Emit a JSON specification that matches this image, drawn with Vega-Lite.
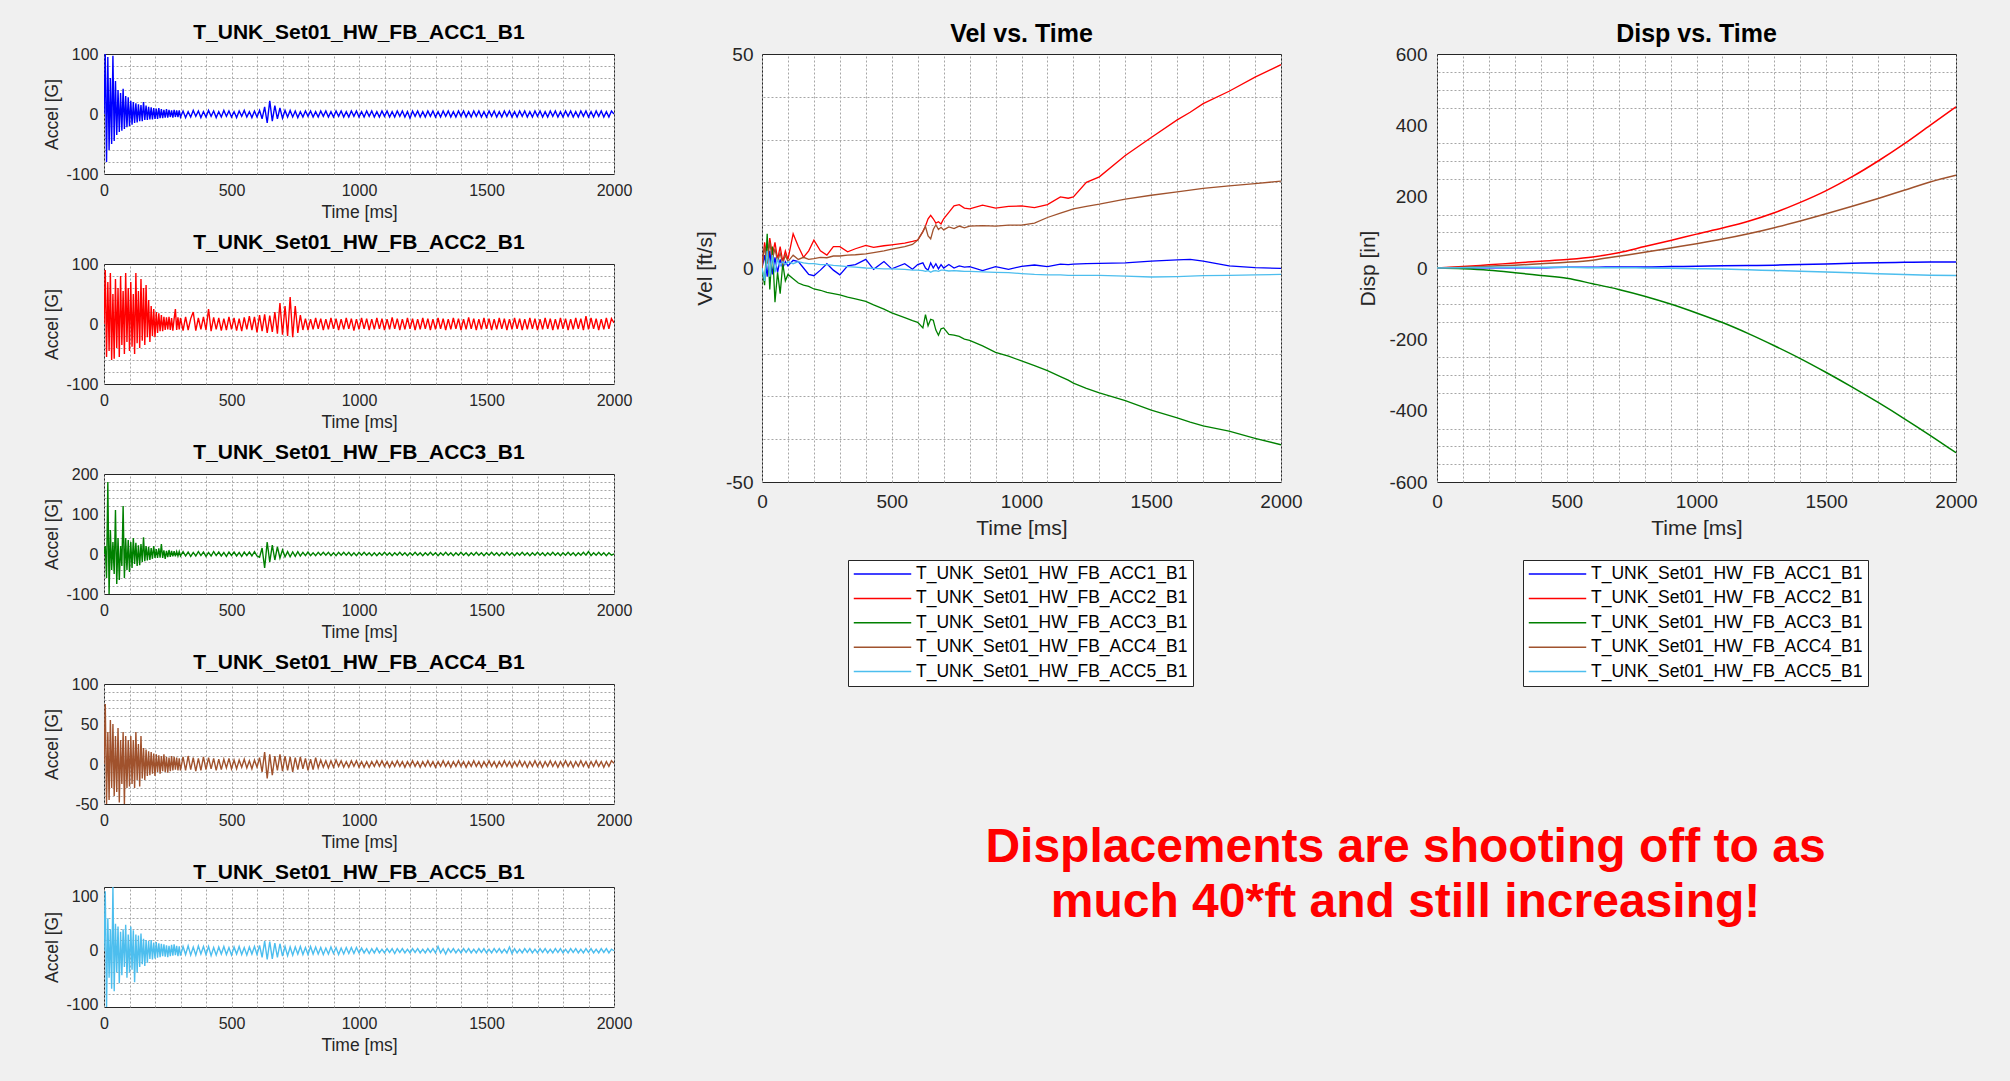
{
"$schema": "https://vega.github.io/schema/vega-lite/v6.json",
"background": "#f0f0f0",
"padding": {"left": 42, "top": 15, "right": 0, "bottom": 30},
"config": {
  "font": "Liberation Sans",
  "view": {"fill": "white", "stroke": "#262626", "strokeWidth": 1},
  "title": {"fontSize": 21, "fontWeight": "bold", "color": "#000000", "offset": 3, "font": "Liberation Sans"},
  "axis": {"labelFont": "Liberation Sans", "titleFont": "Liberation Sans", "labelFontSize": 16, "titleFontSize": 17.5, "labelColor": "#262626", "titleColor": "#262626", "titleFontWeight": "normal", "domain": false, "ticks": false, "grid": true, "gridColor": "#8a8a8a", "gridOpacity": 1, "gridWidth": 1, "labelPadding": 8, "titlePadding": 5, "labelFlush": false, "labelOverlap": false, "labelExpr": "'' + datum.value"},
  "legend": {"orient": "none", "legendX": 86, "legendY": 506, "direction": "vertical", "fillColor": "white", "strokeColor": "#262626", "padding": 5, "symbolType": "stroke", "symbolSize": 3300, "symbolStrokeWidth": 1.5, "clipHeight": 18, "labelFontSize": 17.5, "labelFont": "Liberation Sans", "labelColor": "#000000", "rowPadding": 6.4, "labelOffset": 4, "labelLimit": 400, "title": null}
},
"datasets": {
"acc": [
{"t":0,"a":0,"b":0,"c":0,"d":0,"e":0},
{"t":5,"a":100,"b":90,"c":20,"d":75,"e":110},
{"t":10,"a":-80,"b":-55,"c":-60,"d":-50,"e":-104},
{"t":15,"a":95,"b":70,"c":180,"d":40,"e":60},
{"t":20,"a":-60,"b":-45,"c":-100,"d":-45,"e":-50},
{"t":25,"a":60,"b":85,"c":60,"d":55,"e":40},
{"t":30,"a":-50,"b":-60,"c":-40,"d":-30,"e":-70},
{"t":35,"a":97,"b":50,"c":30,"d":50,"e":120},
{"t":40,"a":-45,"b":-58,"c":-50,"d":-40,"e":-75},
{"t":45,"a":55,"b":75,"c":110,"d":35,"e":50},
{"t":50,"a":-35,"b":-40,"c":-75,"d":-35,"e":-40},
{"t":55,"a":40,"b":60,"c":40,"d":45,"e":45},
{"t":60,"a":-30,"b":-55,"c":-65,"d":-48,"e":-60},
{"t":65,"a":35,"b":80,"c":20,"d":30,"e":35},
{"t":70,"a":-28,"b":-35,"c":-30,"d":-25,"e":-45},
{"t":75,"a":42,"b":55,"c":120,"d":40,"e":40},
{"t":80,"a":-25,"b":-50,"c":-60,"d":-50,"e":-30},
{"t":85,"a":30,"b":85,"c":40,"d":35,"e":48},
{"t":90,"a":-22,"b":-30,"c":-40,"d":-30,"e":-50},
{"t":95,"a":28,"b":60,"c":35,"d":30,"e":30},
{"t":100,"a":-20,"b":-45,"c":-45,"d":-28,"e":-40},
{"t":105,"a":22,"b":70,"c":30,"d":35,"e":45},
{"t":110,"a":-18,"b":-38,"c":-35,"d":-25,"e":-35},
{"t":115,"a":20,"b":50,"c":40,"d":30,"e":38},
{"t":120,"a":-15,"b":-50,"c":-25,"d":-30,"e":-58},
{"t":125,"a":18,"b":85,"c":28,"d":40,"e":30},
{"t":130,"a":-14,"b":-32,"c":-30,"d":-20,"e":-40},
{"t":135,"a":16,"b":55,"c":22,"d":25,"e":28},
{"t":140,"a":-12,"b":-40,"c":-28,"d":-28,"e":-30},
{"t":145,"a":15,"b":75,"c":25,"d":35,"e":32},
{"t":150,"a":-12,"b":-28,"c":-20,"d":-18,"e":-25},
{"t":155,"a":20,"b":60,"c":42,"d":20,"e":22},
{"t":160,"a":-10,"b":-35,"c":-18,"d":-20,"e":-28},
{"t":165,"a":14,"b":65,"c":20,"d":18,"e":20},
{"t":170,"a":-10,"b":-22,"c":-16,"d":-15,"e":-22},
{"t":175,"a":12,"b":40,"c":18,"d":16,"e":18},
{"t":180,"a":-9,"b":-30,"c":-15,"d":-14,"e":-15},
{"t":185,"a":11,"b":30,"c":15,"d":15,"e":20},
{"t":190,"a":-9,"b":-20,"c":-12,"d":-12,"e":-16},
{"t":195,"a":10,"b":25,"c":20,"d":13,"e":15},
{"t":200,"a":-8,"b":-22,"c":-10,"d":-15,"e":-14},
{"t":205,"a":9,"b":20,"c":12,"d":12,"e":16},
{"t":210,"a":-8,"b":-15,"c":-10,"d":-10,"e":-13},
{"t":215,"a":10,"b":18,"c":14,"d":11,"e":14},
{"t":220,"a":-7,"b":-12,"c":-9,"d":-12,"e":-12},
{"t":225,"a":8,"b":15,"c":25,"d":10,"e":13},
{"t":230,"a":-7,"b":-12,"c":-10,"d":-9,"e":-10},
{"t":235,"a":7,"b":12,"c":9,"d":12,"e":12},
{"t":240,"a":-6,"b":-10,"c":-12,"d":-10,"e":-11},
{"t":245,"a":8,"b":11,"c":8,"d":9,"e":10},
{"t":250,"a":-6,"b":-9,"c":-8,"d":-11,"e":-12},
{"t":255,"a":7,"b":12,"c":10,"d":8,"e":9},
{"t":260,"a":-5,"b":-10,"c":-7,"d":-9,"e":-10},
{"t":265,"a":6,"b":10,"c":8,"d":10,"e":11},
{"t":270,"a":-6,"b":-11,"c":-6,"d":-8,"e":-9},
{"t":275,"a":7,"b":9,"c":7,"d":9,"e":12},
{"t":280,"a":-5,"b":25,"c":-6,"d":-7,"e":-8},
{"t":285,"a":6,"b":-10,"c":6,"d":8,"e":9},
{"t":290,"a":-5,"b":11,"c":-5,"d":-8,"e":-10},
{"t":295,"a":6,"b":-9,"c":6,"d":7,"e":8},
{"t":300,"a":-5,"b":10,"c":-5,"d":-8,"e":-9},
{"t":310,"a":5,"b":-11,"c":6,"d":9,"e":8},
{"t":320,"a":-6,"b":12,"c":-5,"d":-8,"e":-7},
{"t":330,"a":4,"b":-10,"c":5,"d":10,"e":9},
{"t":340,"a":-5,"b":9,"c":-6,"d":-7,"e":-8},
{"t":350,"a":6,"b":20,"c":4,"d":8,"e":7},
{"t":360,"a":-4,"b":-11,"c":-5,"d":-9,"e":-8},
{"t":370,"a":5,"b":10,"c":6,"d":7,"e":9},
{"t":380,"a":-6,"b":-9,"c":-4,"d":-8,"e":-6},
{"t":390,"a":4,"b":12,"c":5,"d":9,"e":8},
{"t":400,"a":-5,"b":-10,"c":-6,"d":-7,"e":-7},
{"t":410,"a":6,"b":25,"c":4,"d":8,"e":8},
{"t":420,"a":-4,"b":-12,"c":-5,"d":-6,"e":-9},
{"t":430,"a":5,"b":11,"c":6,"d":7,"e":6},
{"t":440,"a":-6,"b":-9,"c":-4,"d":-8,"e":-8},
{"t":450,"a":4,"b":10,"c":5,"d":6,"e":7},
{"t":460,"a":-5,"b":-11,"c":-5,"d":-7,"e":-6},
{"t":470,"a":6,"b":9,"c":4,"d":6,"e":8},
{"t":480,"a":-4,"b":-10,"c":-6,"d":-5,"e":-7},
{"t":490,"a":5,"b":12,"c":5,"d":7,"e":6},
{"t":500,"a":-5,"b":-9,"c":-4,"d":-6,"e":-8},
{"t":510,"a":4,"b":10,"c":5,"d":5,"e":7},
{"t":520,"a":-6,"b":-11,"c":-5,"d":-6,"e":-6},
{"t":530,"a":5,"b":9,"c":4,"d":5,"e":8},
{"t":540,"a":-4,"b":-12,"c":-6,"d":-4,"e":-7},
{"t":550,"a":6,"b":11,"c":5,"d":6,"e":6},
{"t":560,"a":-5,"b":-9,"c":-4,"d":-5,"e":-8},
{"t":570,"a":4,"b":13,"c":5,"d":4,"e":7},
{"t":580,"a":-6,"b":-10,"c":-5,"d":-6,"e":-6},
{"t":590,"a":5,"b":12,"c":6,"d":5,"e":8},
{"t":600,"a":-5,"b":-14,"c":-5,"d":-4,"e":-7},
{"t":610,"a":6,"b":15,"c":-8,"d":8,"e":10},
{"t":620,"a":-8,"b":-12,"c":15,"d":-10,"e":-12},
{"t":630,"a":12,"b":16,"c":-35,"d":15,"e":18},
{"t":640,"a":-15,"b":-15,"c":30,"d":-18,"e":-16},
{"t":650,"a":22,"b":14,"c":-20,"d":12,"e":17},
{"t":660,"a":-12,"b":-13,"c":22,"d":-14,"e":-15},
{"t":670,"a":14,"b":20,"c":-15,"d":10,"e":14},
{"t":680,"a":-8,"b":-16,"c":18,"d":-8,"e":-12},
{"t":690,"a":10,"b":35,"c":-10,"d":12,"e":13},
{"t":700,"a":-7,"b":-18,"c":10,"d":-9,"e":-10},
{"t":710,"a":6,"b":30,"c":-7,"d":10,"e":8},
{"t":720,"a":-5,"b":-20,"c":6,"d":-8,"e":-9},
{"t":730,"a":6,"b":45,"c":-7,"d":9,"e":7},
{"t":740,"a":-5,"b":-22,"c":5,"d":-10,"e":-8},
{"t":750,"a":5,"b":30,"c":-6,"d":8,"e":7},
{"t":760,"a":-6,"b":-15,"c":6,"d":-7,"e":-6},
{"t":770,"a":4,"b":15,"c":-5,"d":9,"e":8},
{"t":780,"a":-5,"b":-10,"c":4,"d":-6,"e":-7},
{"t":790,"a":5,"b":9,"c":-4,"d":7,"e":6},
{"t":800,"a":-4,"b":-10,"c":5,"d":-8,"e":-7},
{"t":810,"a":5,"b":8,"c":-4,"d":6,"e":8},
{"t":820,"a":-5,"b":-9,"c":3,"d":-7,"e":-6},
{"t":830,"a":4,"b":10,"c":-4,"d":8,"e":7},
{"t":840,"a":-5,"b":-8,"c":4,"d":-5,"e":-6},
{"t":850,"a":5,"b":9,"c":-3,"d":5,"e":6},
{"t":860,"a":-4,"b":-10,"c":4,"d":-4,"e":-7},
{"t":870,"a":5,"b":8,"c":-3,"d":4,"e":5},
{"t":880,"a":-5,"b":-9,"c":4,"d":-5,"e":-6},
{"t":890,"a":4,"b":10,"c":-4,"d":4,"e":7},
{"t":900,"a":-5,"b":-8,"c":3,"d":-4,"e":-5},
{"t":910,"a":5,"b":9,"c":-4,"d":5,"e":6},
{"t":920,"a":-4,"b":-10,"c":4,"d":-3,"e":-7},
{"t":930,"a":5,"b":8,"c":-3,"d":4,"e":5},
{"t":940,"a":-5,"b":-9,"c":4,"d":-4,"e":-6},
{"t":950,"a":4,"b":10,"c":-3,"d":3,"e":6},
{"t":960,"a":-5,"b":-8,"c":4,"d":-4,"e":-5},
{"t":970,"a":5,"b":9,"c":-4,"d":4,"e":6},
{"t":980,"a":-4,"b":-11,"c":3,"d":-3,"e":-5},
{"t":990,"a":5,"b":8,"c":-4,"d":4,"e":6},
{"t":1000,"a":-5,"b":-9,"c":4,"d":-4,"e":-4},
{"t":1010,"a":4,"b":10,"c":-3,"d":3,"e":5},
{"t":1020,"a":-5,"b":-8,"c":4,"d":-4,"e":-4},
{"t":1030,"a":5,"b":9,"c":-3,"d":3,"e":4},
{"t":1040,"a":-4,"b":-10,"c":3,"d":-4,"e":-5},
{"t":1050,"a":5,"b":8,"c":-4,"d":3,"e":4},
{"t":1060,"a":-5,"b":-9,"c":3,"d":-3,"e":-4},
{"t":1070,"a":4,"b":10,"c":-4,"d":4,"e":5},
{"t":1080,"a":-5,"b":-8,"c":3,"d":-3,"e":-4},
{"t":1090,"a":5,"b":9,"c":-3,"d":4,"e":3},
{"t":1100,"a":-4,"b":-10,"c":4,"d":-3,"e":-4},
{"t":1110,"a":5,"b":8,"c":-3,"d":3,"e":4},
{"t":1120,"a":-5,"b":-9,"c":3,"d":-4,"e":-3},
{"t":1130,"a":4,"b":11,"c":-4,"d":3,"e":4},
{"t":1140,"a":-5,"b":-8,"c":3,"d":-3,"e":-5},
{"t":1150,"a":5,"b":9,"c":-3,"d":4,"e":4},
{"t":1160,"a":-4,"b":-10,"c":4,"d":-3,"e":-3},
{"t":1170,"a":5,"b":8,"c":-3,"d":3,"e":4},
{"t":1180,"a":-5,"b":-9,"c":3,"d":-4,"e":-4},
{"t":1190,"a":4,"b":10,"c":-4,"d":3,"e":3},
{"t":1200,"a":-7,"b":-8,"c":3,"d":-3,"e":-4},
{"t":1210,"a":5,"b":9,"c":-3,"d":4,"e":4},
{"t":1220,"a":-4,"b":-10,"c":4,"d":-3,"e":-3},
{"t":1230,"a":5,"b":8,"c":-3,"d":3,"e":4},
{"t":1240,"a":-5,"b":-9,"c":3,"d":-4,"e":-4},
{"t":1250,"a":4,"b":10,"c":-4,"d":3,"e":3},
{"t":1260,"a":-5,"b":-8,"c":3,"d":-3,"e":-4},
{"t":1270,"a":5,"b":9,"c":-3,"d":4,"e":4},
{"t":1280,"a":-4,"b":-10,"c":4,"d":-3,"e":-3},
{"t":1290,"a":5,"b":8,"c":-3,"d":3,"e":4},
{"t":1300,"a":-5,"b":-9,"c":3,"d":-4,"e":-4},
{"t":1310,"a":4,"b":10,"c":-4,"d":3,"e":8},
{"t":1320,"a":-5,"b":-8,"c":3,"d":-3,"e":-4},
{"t":1330,"a":5,"b":9,"c":-3,"d":4,"e":4},
{"t":1340,"a":-4,"b":-10,"c":4,"d":-3,"e":-6},
{"t":1350,"a":5,"b":8,"c":-3,"d":3,"e":4},
{"t":1360,"a":-5,"b":-9,"c":3,"d":-4,"e":-3},
{"t":1370,"a":4,"b":10,"c":-4,"d":3,"e":4},
{"t":1380,"a":-5,"b":-8,"c":3,"d":-3,"e":-4},
{"t":1390,"a":5,"b":9,"c":-3,"d":4,"e":3},
{"t":1400,"a":-4,"b":-10,"c":4,"d":-3,"e":-4},
{"t":1410,"a":5,"b":8,"c":-3,"d":3,"e":4},
{"t":1420,"a":-5,"b":-9,"c":3,"d":-4,"e":-3},
{"t":1430,"a":4,"b":11,"c":-4,"d":3,"e":4},
{"t":1440,"a":-5,"b":-8,"c":3,"d":-3,"e":-4},
{"t":1450,"a":5,"b":9,"c":-3,"d":4,"e":3},
{"t":1460,"a":-4,"b":-10,"c":4,"d":-3,"e":-4},
{"t":1470,"a":5,"b":8,"c":-3,"d":3,"e":4},
{"t":1480,"a":-5,"b":-9,"c":3,"d":-4,"e":-3},
{"t":1490,"a":4,"b":10,"c":-4,"d":3,"e":4},
{"t":1500,"a":-5,"b":-8,"c":3,"d":-3,"e":-4},
{"t":1510,"a":5,"b":9,"c":-3,"d":4,"e":3},
{"t":1520,"a":-4,"b":-10,"c":4,"d":-3,"e":-4},
{"t":1530,"a":5,"b":8,"c":-3,"d":3,"e":4},
{"t":1540,"a":-5,"b":-9,"c":3,"d":-4,"e":-3},
{"t":1550,"a":4,"b":10,"c":-4,"d":3,"e":4},
{"t":1560,"a":-5,"b":-8,"c":3,"d":-3,"e":-4},
{"t":1570,"a":5,"b":9,"c":-3,"d":4,"e":3},
{"t":1580,"a":-4,"b":-10,"c":4,"d":-3,"e":-4},
{"t":1590,"a":5,"b":8,"c":-3,"d":3,"e":7},
{"t":1600,"a":-5,"b":-9,"c":3,"d":-4,"e":-5},
{"t":1610,"a":4,"b":10,"c":-4,"d":3,"e":4},
{"t":1620,"a":-5,"b":-8,"c":3,"d":-3,"e":-4},
{"t":1630,"a":5,"b":9,"c":-3,"d":4,"e":3},
{"t":1640,"a":-4,"b":-10,"c":4,"d":-3,"e":-4},
{"t":1650,"a":5,"b":8,"c":-3,"d":3,"e":4},
{"t":1660,"a":-5,"b":-9,"c":3,"d":-4,"e":-3},
{"t":1670,"a":4,"b":10,"c":-4,"d":3,"e":4},
{"t":1680,"a":-5,"b":-8,"c":3,"d":-3,"e":-4},
{"t":1690,"a":5,"b":9,"c":-3,"d":4,"e":3},
{"t":1700,"a":-4,"b":-10,"c":4,"d":-3,"e":-4},
{"t":1710,"a":5,"b":8,"c":-3,"d":3,"e":4},
{"t":1720,"a":-5,"b":-9,"c":3,"d":-4,"e":-3},
{"t":1730,"a":4,"b":10,"c":-4,"d":3,"e":4},
{"t":1740,"a":-5,"b":-8,"c":3,"d":-3,"e":-4},
{"t":1750,"a":5,"b":9,"c":-3,"d":4,"e":3},
{"t":1760,"a":-4,"b":-10,"c":4,"d":-3,"e":-4},
{"t":1770,"a":5,"b":8,"c":-3,"d":3,"e":4},
{"t":1780,"a":-5,"b":-9,"c":3,"d":-4,"e":-3},
{"t":1790,"a":4,"b":10,"c":-4,"d":3,"e":4},
{"t":1800,"a":-5,"b":-8,"c":3,"d":-3,"e":-4},
{"t":1810,"a":5,"b":9,"c":-3,"d":4,"e":3},
{"t":1820,"a":-4,"b":-10,"c":4,"d":-3,"e":-4},
{"t":1830,"a":5,"b":8,"c":-3,"d":3,"e":4},
{"t":1840,"a":-5,"b":-9,"c":3,"d":-4,"e":-3},
{"t":1850,"a":4,"b":10,"c":-4,"d":3,"e":4},
{"t":1860,"a":-5,"b":-8,"c":3,"d":-3,"e":-4},
{"t":1870,"a":5,"b":9,"c":-3,"d":4,"e":3},
{"t":1880,"a":-4,"b":-10,"c":4,"d":-3,"e":-4},
{"t":1890,"a":5,"b":13,"c":-3,"d":3,"e":4},
{"t":1900,"a":-5,"b":-9,"c":6,"d":-4,"e":-3},
{"t":1910,"a":4,"b":10,"c":-4,"d":3,"e":4},
{"t":1920,"a":-5,"b":-8,"c":3,"d":-3,"e":-4},
{"t":1930,"a":5,"b":9,"c":-3,"d":4,"e":3},
{"t":1940,"a":-4,"b":-10,"c":4,"d":-3,"e":-4},
{"t":1950,"a":5,"b":8,"c":-3,"d":3,"e":4},
{"t":1960,"a":-5,"b":-9,"c":3,"d":-4,"e":-3},
{"t":1970,"a":4,"b":10,"c":-4,"d":3,"e":4},
{"t":1980,"a":-5,"b":-8,"c":3,"d":-3,"e":-4},
{"t":1990,"a":5,"b":9,"c":-3,"d":4,"e":3},
{"t":2000,"a":0,"b":2,"c":0,"d":1,"e":0}
],
"vel": [
{"t":0,"ACC1":0,"ACC2":0,"ACC3":0,"ACC4":0,"ACC5":0},
{"t":10,"ACC1":3,"ACC2":6,"ACC3":-4,"ACC4":5,"ACC5":-3},
{"t":20,"ACC1":-2,"ACC2":2,"ACC3":8,"ACC4":1,"ACC5":4},
{"t":30,"ACC1":4,"ACC2":7,"ACC3":-5,"ACC4":6,"ACC5":-2},
{"t":40,"ACC1":-1.5,"ACC2":3,"ACC3":5,"ACC4":2,"ACC5":3},
{"t":50,"ACC1":2.5,"ACC2":6,"ACC3":-8,"ACC4":4.5,"ACC5":-1},
{"t":60,"ACC1":-1,"ACC2":2,"ACC3":-1,"ACC4":1.5,"ACC5":2},
{"t":70,"ACC1":2,"ACC2":5,"ACC3":-6,"ACC4":3.5,"ACC5":0.5},
{"t":80,"ACC1":0,"ACC2":1.5,"ACC3":1,"ACC4":1,"ACC5":1.5},
{"t":90,"ACC1":1.5,"ACC2":4,"ACC3":-3,"ACC4":3,"ACC5":0.8},
{"t":100,"ACC1":0.5,"ACC2":2,"ACC3":-1.5,"ACC4":1.5,"ACC5":1.5},
{"t":120,"ACC1":1.8,"ACC2":8,"ACC3":-2.5,"ACC4":3,"ACC5":1},
{"t":140,"ACC1":1.5,"ACC2":5,"ACC3":-3.5,"ACC4":2,"ACC5":1.5},
{"t":160,"ACC1":0,"ACC2":2.5,"ACC3":-4,"ACC4":2.5,"ACC5":1.2},
{"t":180,"ACC1":-1.5,"ACC2":4,"ACC3":-4.3,"ACC4":2,"ACC5":1},
{"t":200,"ACC1":-1.8,"ACC2":6.5,"ACC3":-4.9,"ACC4":2.2,"ACC5":1},
{"t":225,"ACC1":-0.5,"ACC2":4,"ACC3":-5.2,"ACC4":2.5,"ACC5":0.8},
{"t":250,"ACC1":1,"ACC2":3,"ACC3":-5.7,"ACC4":2.4,"ACC5":0.8},
{"t":275,"ACC1":-0.5,"ACC2":5,"ACC3":-6,"ACC4":2.8,"ACC5":0.6},
{"t":300,"ACC1":-1.6,"ACC2":5,"ACC3":-6.3,"ACC4":2.8,"ACC5":0.5},
{"t":330,"ACC1":0.5,"ACC2":3.8,"ACC3":-6.8,"ACC4":3,"ACC5":0.3},
{"t":360,"ACC1":0.8,"ACC2":4.5,"ACC3":-7.2,"ACC4":3.1,"ACC5":0.2},
{"t":400,"ACC1":2,"ACC2":5.3,"ACC3":-7.8,"ACC4":3.3,"ACC5":0},
{"t":430,"ACC1":-0.3,"ACC2":4.8,"ACC3":-8.6,"ACC4":3.6,"ACC5":-0.1},
{"t":470,"ACC1":1.5,"ACC2":5.2,"ACC3":-9.6,"ACC4":4,"ACC5":-0.2},
{"t":500,"ACC1":-0.2,"ACC2":5.4,"ACC3":-10.5,"ACC4":4.4,"ACC5":-0.2},
{"t":550,"ACC1":1,"ACC2":5.8,"ACC3":-11.6,"ACC4":5,"ACC5":-0.3},
{"t":580,"ACC1":-0.3,"ACC2":6.2,"ACC3":-12.3,"ACC4":5.5,"ACC5":-0.5},
{"t":600,"ACC1":0.8,"ACC2":6.5,"ACC3":-12.7,"ACC4":6.5,"ACC5":-0.5},
{"t":620,"ACC1":1.2,"ACC2":8.5,"ACC3":-14,"ACC4":8.5,"ACC5":-0.6},
{"t":630,"ACC1":0,"ACC2":9.8,"ACC3":-10.9,"ACC4":9.7,"ACC5":-0.8},
{"t":640,"ACC1":-0.5,"ACC2":11.5,"ACC3":-13.5,"ACC4":7.5,"ACC5":-0.6},
{"t":650,"ACC1":1.2,"ACC2":12.3,"ACC3":-12,"ACC4":6.8,"ACC5":-1},
{"t":660,"ACC1":0,"ACC2":11.5,"ACC3":-12.2,"ACC4":9,"ACC5":-0.7},
{"t":670,"ACC1":1,"ACC2":10.5,"ACC3":-14.5,"ACC4":10.1,"ACC5":-0.6},
{"t":680,"ACC1":-0.2,"ACC2":10.8,"ACC3":-15.7,"ACC4":9,"ACC5":-0.8},
{"t":690,"ACC1":0.8,"ACC2":10.3,"ACC3":-14.2,"ACC4":9.5,"ACC5":-0.5},
{"t":700,"ACC1":0,"ACC2":11.5,"ACC3":-14,"ACC4":8.9,"ACC5":-0.5},
{"t":720,"ACC1":0.8,"ACC2":13,"ACC3":-15.5,"ACC4":9.6,"ACC5":-0.7},
{"t":740,"ACC1":0,"ACC2":14.5,"ACC3":-15.7,"ACC4":9.2,"ACC5":-0.6},
{"t":760,"ACC1":0.5,"ACC2":14.8,"ACC3":-16,"ACC4":9.8,"ACC5":-0.7},
{"t":780,"ACC1":0.2,"ACC2":14,"ACC3":-16.6,"ACC4":9.4,"ACC5":-0.8},
{"t":800,"ACC1":0.3,"ACC2":13.8,"ACC3":-16.9,"ACC4":9.8,"ACC5":-0.8},
{"t":850,"ACC1":-0.6,"ACC2":14.7,"ACC3":-18.2,"ACC4":9.9,"ACC5":-0.9},
{"t":900,"ACC1":0.3,"ACC2":14,"ACC3":-19.7,"ACC4":9.8,"ACC5":-1},
{"t":950,"ACC1":-0.3,"ACC2":14.4,"ACC3":-20.6,"ACC4":10,"ACC5":-1.1},
{"t":1000,"ACC1":0.4,"ACC2":14.5,"ACC3":-21.7,"ACC4":10,"ACC5":-1.3},
{"t":1050,"ACC1":0.7,"ACC2":14.1,"ACC3":-22.8,"ACC4":10.5,"ACC5":-1.5},
{"t":1100,"ACC1":0.3,"ACC2":14.8,"ACC3":-24,"ACC4":11.8,"ACC5":-1.6},
{"t":1150,"ACC1":0.9,"ACC2":16.6,"ACC3":-25.4,"ACC4":12.8,"ACC5":-1.6},
{"t":1180,"ACC1":0.8,"ACC2":16.3,"ACC3":-26.2,"ACC4":13.4,"ACC5":-1.7},
{"t":1200,"ACC1":0.9,"ACC2":16.6,"ACC3":-26.9,"ACC4":13.8,"ACC5":-1.7},
{"t":1250,"ACC1":1,"ACC2":20,"ACC3":-28.1,"ACC4":14.4,"ACC5":-1.7},
{"t":1300,"ACC1":1.1,"ACC2":21.3,"ACC3":-29.2,"ACC4":14.9,"ACC5":-1.7},
{"t":1400,"ACC1":1.2,"ACC2":26.3,"ACC3":-31,"ACC4":16.1,"ACC5":-1.9},
{"t":1500,"ACC1":1.6,"ACC2":30.5,"ACC3":-33.2,"ACC4":17,"ACC5":-2.1},
{"t":1600,"ACC1":1.9,"ACC2":34.6,"ACC3":-35,"ACC4":17.8,"ACC5":-2},
{"t":1650,"ACC1":2,"ACC2":36.4,"ACC3":-36,"ACC4":18.2,"ACC5":-1.9},
{"t":1700,"ACC1":1.6,"ACC2":38.4,"ACC3":-36.9,"ACC4":18.6,"ACC5":-1.8},
{"t":1800,"ACC1":0.5,"ACC2":41.3,"ACC3":-38.1,"ACC4":19.2,"ACC5":-1.7},
{"t":1900,"ACC1":0.1,"ACC2":44.6,"ACC3":-39.8,"ACC4":19.7,"ACC5":-1.6},
{"t":2000,"ACC1":-0.1,"ACC2":47.5,"ACC3":-41.3,"ACC4":20.3,"ACC5":-1.5}
],
"disp": [
{"t":0,"ACC1":0,"ACC2":0,"ACC3":0,"ACC4":0,"ACC5":0},
{"t":100,"ACC1":1,"ACC2":4,"ACC3":-2,"ACC4":2,"ACC5":1},
{"t":200,"ACC1":1,"ACC2":9,"ACC3":-6,"ACC4":5,"ACC5":2},
{"t":300,"ACC1":1,"ACC2":14,"ACC3":-13,"ACC4":8,"ACC5":2},
{"t":400,"ACC1":1,"ACC2":19,"ACC3":-21,"ACC4":12,"ACC5":2},
{"t":500,"ACC1":2,"ACC2":24,"ACC3":-29,"ACC4":16,"ACC5":2},
{"t":600,"ACC1":2,"ACC2":31,"ACC3":-44,"ACC4":22,"ACC5":1},
{"t":700,"ACC1":3,"ACC2":43,"ACC3":-60,"ACC4":33,"ACC5":1},
{"t":800,"ACC1":3,"ACC2":60,"ACC3":-79,"ACC4":44,"ACC5":0},
{"t":900,"ACC1":4,"ACC2":77,"ACC3":-101,"ACC4":56,"ACC5":-1},
{"t":1000,"ACC1":5,"ACC2":95,"ACC3":-126,"ACC4":68,"ACC5":-2},
{"t":1100,"ACC1":6,"ACC2":112,"ACC3":-153,"ACC4":81,"ACC5":-3},
{"t":1200,"ACC1":7,"ACC2":131,"ACC3":-184,"ACC4":96,"ACC5":-5},
{"t":1300,"ACC1":8,"ACC2":155,"ACC3":-218,"ACC4":113,"ACC5":-7},
{"t":1400,"ACC1":10,"ACC2":184,"ACC3":-254,"ACC4":132,"ACC5":-9},
{"t":1500,"ACC1":11,"ACC2":217,"ACC3":-293,"ACC4":152,"ACC5":-11},
{"t":1600,"ACC1":13,"ACC2":256,"ACC3":-334,"ACC4":173,"ACC5":-13},
{"t":1700,"ACC1":15,"ACC2":300,"ACC3":-377,"ACC4":195,"ACC5":-16},
{"t":1800,"ACC1":16,"ACC2":348,"ACC3":-422,"ACC4":218,"ACC5":-18},
{"t":1900,"ACC1":17,"ACC2":400,"ACC3":-469,"ACC4":241,"ACC5":-20},
{"t":2000,"ACC1":17,"ACC2":452,"ACC3":-518,"ACC4":260,"ACC5":-21}
]
},
"hconcat": [
{
"spacing": 10,
"vconcat": [
{
"width": 510, "height": 120,
"title": {"text": "T_UNK_Set01_HW_FB_ACC1_B1"},
"data": {"name": "acc"},
"layer": [
{"mark": {"type": "line", "strokeOpacity": 0},
 "encoding": {
  "x": {"field": "t", "type": "quantitative", "scale": {"domain": [0,2000], "nice": false, "zero": false}, "axis": {"orient": "top", "values": [0,100,200,300,400,500,600,700,800,900,1000,1100,1200,1300,1400,1500,1600,1700,1800,1900,2000], "labels": false, "title": null, "gridDash": [2,2], "gridColor": "#a6a6a6", "minExtent": 0, "maxExtent": 0}},
  "y": {"field": "a", "type": "quantitative", "scale": {"domain": [-100,100], "nice": false, "zero": false}, "axis": {"orient": "right", "values": [-80,-60,-40,-20,20,40,60,80], "labels": false, "title": null, "gridDash": [2,2], "gridColor": "#a6a6a6", "minExtent": 0, "maxExtent": 0}}
 }},
{"mark": {"type": "line", "color": "#0000ff", "strokeWidth": 1.4, "clip": true},
 "encoding": {
  "x": {"field": "t", "type": "quantitative", "scale": {"domain": [0,2000], "nice": false, "zero": false}, "axis": {"orient": "bottom", "values": [0,500,1000,1500,2000], "title": "Time [ms]"}},
  "y": {"field": "a", "type": "quantitative", "scale": {"domain": [-100,100], "nice": false, "zero": false}, "axis": {"orient": "left", "values": [-100,0,100], "title": "Accel [G]", "labelPadding": 6, "minExtent": 38, "maxExtent": 38}}
 }}
],
"resolve": {"axis": {"x": "independent", "y": "independent"}}
},
{
"width": 510, "height": 120,
"title": {"text": "T_UNK_Set01_HW_FB_ACC2_B1"},
"data": {"name": "acc"},
"layer": [
{"mark": {"type": "line", "strokeOpacity": 0},
 "encoding": {
  "x": {"field": "t", "type": "quantitative", "scale": {"domain": [0,2000], "nice": false, "zero": false}, "axis": {"orient": "top", "values": [0,100,200,300,400,500,600,700,800,900,1000,1100,1200,1300,1400,1500,1600,1700,1800,1900,2000], "labels": false, "title": null, "gridDash": [2,2], "gridColor": "#a6a6a6", "minExtent": 0, "maxExtent": 0}},
  "y": {"field": "b", "type": "quantitative", "scale": {"domain": [-100,100], "nice": false, "zero": false}, "axis": {"orient": "right", "values": [-80,-60,-40,-20,20,40,60,80], "labels": false, "title": null, "gridDash": [2,2], "gridColor": "#a6a6a6", "minExtent": 0, "maxExtent": 0}}
 }},
{"mark": {"type": "line", "color": "#ff0000", "strokeWidth": 1.4, "clip": true},
 "encoding": {
  "x": {"field": "t", "type": "quantitative", "scale": {"domain": [0,2000], "nice": false, "zero": false}, "axis": {"orient": "bottom", "values": [0,500,1000,1500,2000], "title": "Time [ms]"}},
  "y": {"field": "b", "type": "quantitative", "scale": {"domain": [-100,100], "nice": false, "zero": false}, "axis": {"orient": "left", "values": [-100,0,100], "title": "Accel [G]", "labelPadding": 6, "minExtent": 38, "maxExtent": 38}}
 }}
],
"resolve": {"axis": {"x": "independent", "y": "independent"}}
},
{
"width": 510, "height": 120,
"title": {"text": "T_UNK_Set01_HW_FB_ACC3_B1"},
"data": {"name": "acc"},
"layer": [
{"mark": {"type": "line", "strokeOpacity": 0},
 "encoding": {
  "x": {"field": "t", "type": "quantitative", "scale": {"domain": [0,2000], "nice": false, "zero": false}, "axis": {"orient": "top", "values": [0,100,200,300,400,500,600,700,800,900,1000,1100,1200,1300,1400,1500,1600,1700,1800,1900,2000], "labels": false, "title": null, "gridDash": [2,2], "gridColor": "#a6a6a6", "minExtent": 0, "maxExtent": 0}},
  "y": {"field": "c", "type": "quantitative", "scale": {"domain": [-100,200], "nice": false, "zero": false}, "axis": {"orient": "right", "values": [-80,-60,-40,-20,20,40,60,80,120,140,160,180], "labels": false, "title": null, "gridDash": [2,2], "gridColor": "#a6a6a6", "minExtent": 0, "maxExtent": 0}}
 }},
{"mark": {"type": "line", "color": "#008000", "strokeWidth": 1.4, "clip": true},
 "encoding": {
  "x": {"field": "t", "type": "quantitative", "scale": {"domain": [0,2000], "nice": false, "zero": false}, "axis": {"orient": "bottom", "values": [0,500,1000,1500,2000], "title": "Time [ms]"}},
  "y": {"field": "c", "type": "quantitative", "scale": {"domain": [-100,200], "nice": false, "zero": false}, "axis": {"orient": "left", "values": [-100,0,100,200], "title": "Accel [G]", "labelPadding": 6, "minExtent": 38, "maxExtent": 38}}
 }}
],
"resolve": {"axis": {"x": "independent", "y": "independent"}}
},
{
"width": 510, "height": 120,
"title": {"text": "T_UNK_Set01_HW_FB_ACC4_B1"},
"data": {"name": "acc"},
"layer": [
{"mark": {"type": "line", "strokeOpacity": 0},
 "encoding": {
  "x": {"field": "t", "type": "quantitative", "scale": {"domain": [0,2000], "nice": false, "zero": false}, "axis": {"orient": "top", "values": [0,100,200,300,400,500,600,700,800,900,1000,1100,1200,1300,1400,1500,1600,1700,1800,1900,2000], "labels": false, "title": null, "gridDash": [2,2], "gridColor": "#a6a6a6", "minExtent": 0, "maxExtent": 0}},
  "y": {"field": "d", "type": "quantitative", "scale": {"domain": [-50,100], "nice": false, "zero": false}, "axis": {"orient": "right", "values": [-40,-30,-20,-10,10,20,30,40,60,70,80,90], "labels": false, "title": null, "gridDash": [2,2], "gridColor": "#a6a6a6", "minExtent": 0, "maxExtent": 0}}
 }},
{"mark": {"type": "line", "color": "#a0522d", "strokeWidth": 1.4, "clip": true},
 "encoding": {
  "x": {"field": "t", "type": "quantitative", "scale": {"domain": [0,2000], "nice": false, "zero": false}, "axis": {"orient": "bottom", "values": [0,500,1000,1500,2000], "title": "Time [ms]"}},
  "y": {"field": "d", "type": "quantitative", "scale": {"domain": [-50,100], "nice": false, "zero": false}, "axis": {"orient": "left", "values": [-50,0,50,100], "title": "Accel [G]", "labelPadding": 6, "minExtent": 38, "maxExtent": 38}}
 }}
],
"resolve": {"axis": {"x": "independent", "y": "independent"}}
},
{
"width": 510, "height": 120,
"title": {"text": "T_UNK_Set01_HW_FB_ACC5_B1"},
"data": {"name": "acc"},
"layer": [
{"mark": {"type": "line", "strokeOpacity": 0},
 "encoding": {
  "x": {"field": "t", "type": "quantitative", "scale": {"domain": [0,2000], "nice": false, "zero": false}, "axis": {"orient": "top", "values": [0,100,200,300,400,500,600,700,800,900,1000,1100,1200,1300,1400,1500,1600,1700,1800,1900,2000], "labels": false, "title": null, "gridDash": [2,2], "gridColor": "#a6a6a6", "minExtent": 0, "maxExtent": 0}},
  "y": {"field": "e", "type": "quantitative", "scale": {"domain": [-104,118], "nice": false, "zero": false}, "axis": {"orient": "right", "values": [-80,-60,-40,-20,20,40,60,80], "labels": false, "title": null, "gridDash": [2,2], "gridColor": "#a6a6a6", "minExtent": 0, "maxExtent": 0}}
 }},
{"mark": {"type": "line", "color": "#4dbeee", "strokeWidth": 1.4, "clip": true},
 "encoding": {
  "x": {"field": "t", "type": "quantitative", "scale": {"domain": [0,2000], "nice": false, "zero": false}, "axis": {"orient": "bottom", "values": [0,500,1000,1500,2000], "title": "Time [ms]"}},
  "y": {"field": "e", "type": "quantitative", "scale": {"domain": [-104,118], "nice": false, "zero": false}, "axis": {"orient": "left", "values": [-100,0,100], "title": "Accel [G]", "labelPadding": 6, "minExtent": 38, "maxExtent": 38}}
 }}
],
"resolve": {"axis": {"x": "independent", "y": "independent"}}
}
]
},
{
"spacing": 80,
"vconcat": [
{
"spacing": 53,
"resolve": {"scale": {"color": "independent"}, "legend": {"color": "independent"}},
"hconcat": [
{
"width": 519, "height": 428,
"title": {"text": [" ", "Vel vs. Time"], "fontSize": 25, "lineHeight": 6, "offset": -2},
"data": {"name": "vel"},
"transform": [{"fold": ["ACC1","ACC2","ACC3","ACC4","ACC5"], "as": ["s","v"]}],
"layer": [
{"mark": {"type": "line", "strokeOpacity": 0},
 "encoding": {
  "x": {"field": "t", "type": "quantitative", "scale": {"domain": [0,2000], "nice": false, "zero": false}, "axis": {"orient": "top", "values": [0,100,200,300,400,500,600,700,800,900,1000,1100,1200,1300,1400,1500,1600,1700,1800,1900,2000], "labels": false, "title": null, "gridDash": [2,2], "gridColor": "#a6a6a6", "minExtent": 0, "maxExtent": 0}},
  "y": {"field": "v", "type": "quantitative", "scale": {"domain": [-50,50], "nice": false, "zero": false}, "axis": {"orient": "right", "values": [-40,-30,-20,-10,10,20,30,40], "labels": false, "title": null, "gridDash": [2,2], "gridColor": "#a6a6a6", "minExtent": 0, "maxExtent": 0}},
  "detail": {"field": "s"}
 }},
{"mark": {"type": "line", "strokeWidth": 1.3, "clip": true},
 "encoding": {
  "x": {"field": "t", "type": "quantitative", "scale": {"domain": [0,2000], "nice": false, "zero": false}, "axis": {"orient": "bottom", "values": [0,500,1000,1500,2000], "title": "Time [ms]", "labelFontSize": 19, "titleFontSize": 21, "labelPadding": 10, "titlePadding": 6}},
  "y": {"field": "v", "type": "quantitative", "scale": {"domain": [-50,50], "nice": false, "zero": false}, "axis": {"orient": "left", "values": [-50,0,50], "title": "Vel [ft/s]", "labelFontSize": 19, "titleFontSize": 21, "labelPadding": 9, "titlePadding": 11, "minExtent": 36, "maxExtent": 36}},
  "color": {"field": "s", "type": "nominal", "scale": {"domain": ["ACC1","ACC2","ACC3","ACC4","ACC5"], "range": ["#0000ff","#ff0000","#008000","#a0522d","#4dbeee"]}, "legend": {"labelExpr": "'T_UNK_Set01_HW_FB_' + datum.label + '_B1'"}}
 }}
],
"resolve": {"axis": {"x": "independent", "y": "independent"}}
},
{
"width": 519, "height": 428,
"title": {"text": [" ", "Disp vs. Time"], "fontSize": 25, "lineHeight": 6, "offset": -2},
"data": {"name": "disp"},
"transform": [{"fold": ["ACC1","ACC2","ACC3","ACC4","ACC5"], "as": ["s","v"]}],
"layer": [
{"mark": {"type": "line", "strokeOpacity": 0},
 "encoding": {
  "x": {"field": "t", "type": "quantitative", "scale": {"domain": [0,2000], "nice": false, "zero": false}, "axis": {"orient": "top", "values": [0,100,200,300,400,500,600,700,800,900,1000,1100,1200,1300,1400,1500,1600,1700,1800,1900,2000], "labels": false, "title": null, "gridDash": [2,2], "gridColor": "#a6a6a6", "minExtent": 0, "maxExtent": 0}},
  "y": {"field": "v", "type": "quantitative", "scale": {"domain": [-600,600], "nice": false, "zero": false}, "axis": {"orient": "right", "values": [-550,-500,-450,-350,-300,-250,-150,-100,-50,50,100,150,250,300,350,450,500,550], "labels": false, "title": null, "gridDash": [2,2], "gridColor": "#a6a6a6", "minExtent": 0, "maxExtent": 0}},
  "detail": {"field": "s"}
 }},
{"mark": {"type": "line", "strokeWidth": 1.5, "clip": true, "interpolate": "monotone"},
 "encoding": {
  "x": {"field": "t", "type": "quantitative", "scale": {"domain": [0,2000], "nice": false, "zero": false}, "axis": {"orient": "bottom", "values": [0,500,1000,1500,2000], "title": "Time [ms]", "labelFontSize": 19, "titleFontSize": 21, "labelPadding": 10, "titlePadding": 6}},
  "y": {"field": "v", "type": "quantitative", "scale": {"domain": [-600,600], "nice": false, "zero": false}, "axis": {"orient": "left", "values": [-600,-400,-200,0,200,400,600], "title": "Disp [in]", "labelFontSize": 19, "titleFontSize": 21, "labelPadding": 10, "titlePadding": 11, "minExtent": 48, "maxExtent": 48}},
  "color": {"field": "s", "type": "nominal", "scale": {"domain": ["ACC1","ACC2","ACC3","ACC4","ACC5"], "range": ["#0000ff","#ff0000","#008000","#a0522d","#4dbeee"]}, "legend": {"labelExpr": "'T_UNK_Set01_HW_FB_' + datum.label + '_B1'"}}
 }}
],
"resolve": {"axis": {"x": "independent", "y": "independent"}}
}
]
},
{
"width": 1287, "height": 160,
"view": {"fill": "transparent", "stroke": "transparent"},
"data": {"values": [{"msg": "Displacements are shooting off to as\nmuch 40*ft and still increasing!"}]},
"mark": {"type": "text", "font": "Liberation Sans", "fontWeight": "bold", "fontSize": 48, "color": "#ff0000", "lineBreak": "\n", "lineHeight": 55, "align": "center", "baseline": "middle"},
"encoding": {"text": {"field": "msg", "type": "nominal"}}
}
]
}
],
"spacing": 60
}
